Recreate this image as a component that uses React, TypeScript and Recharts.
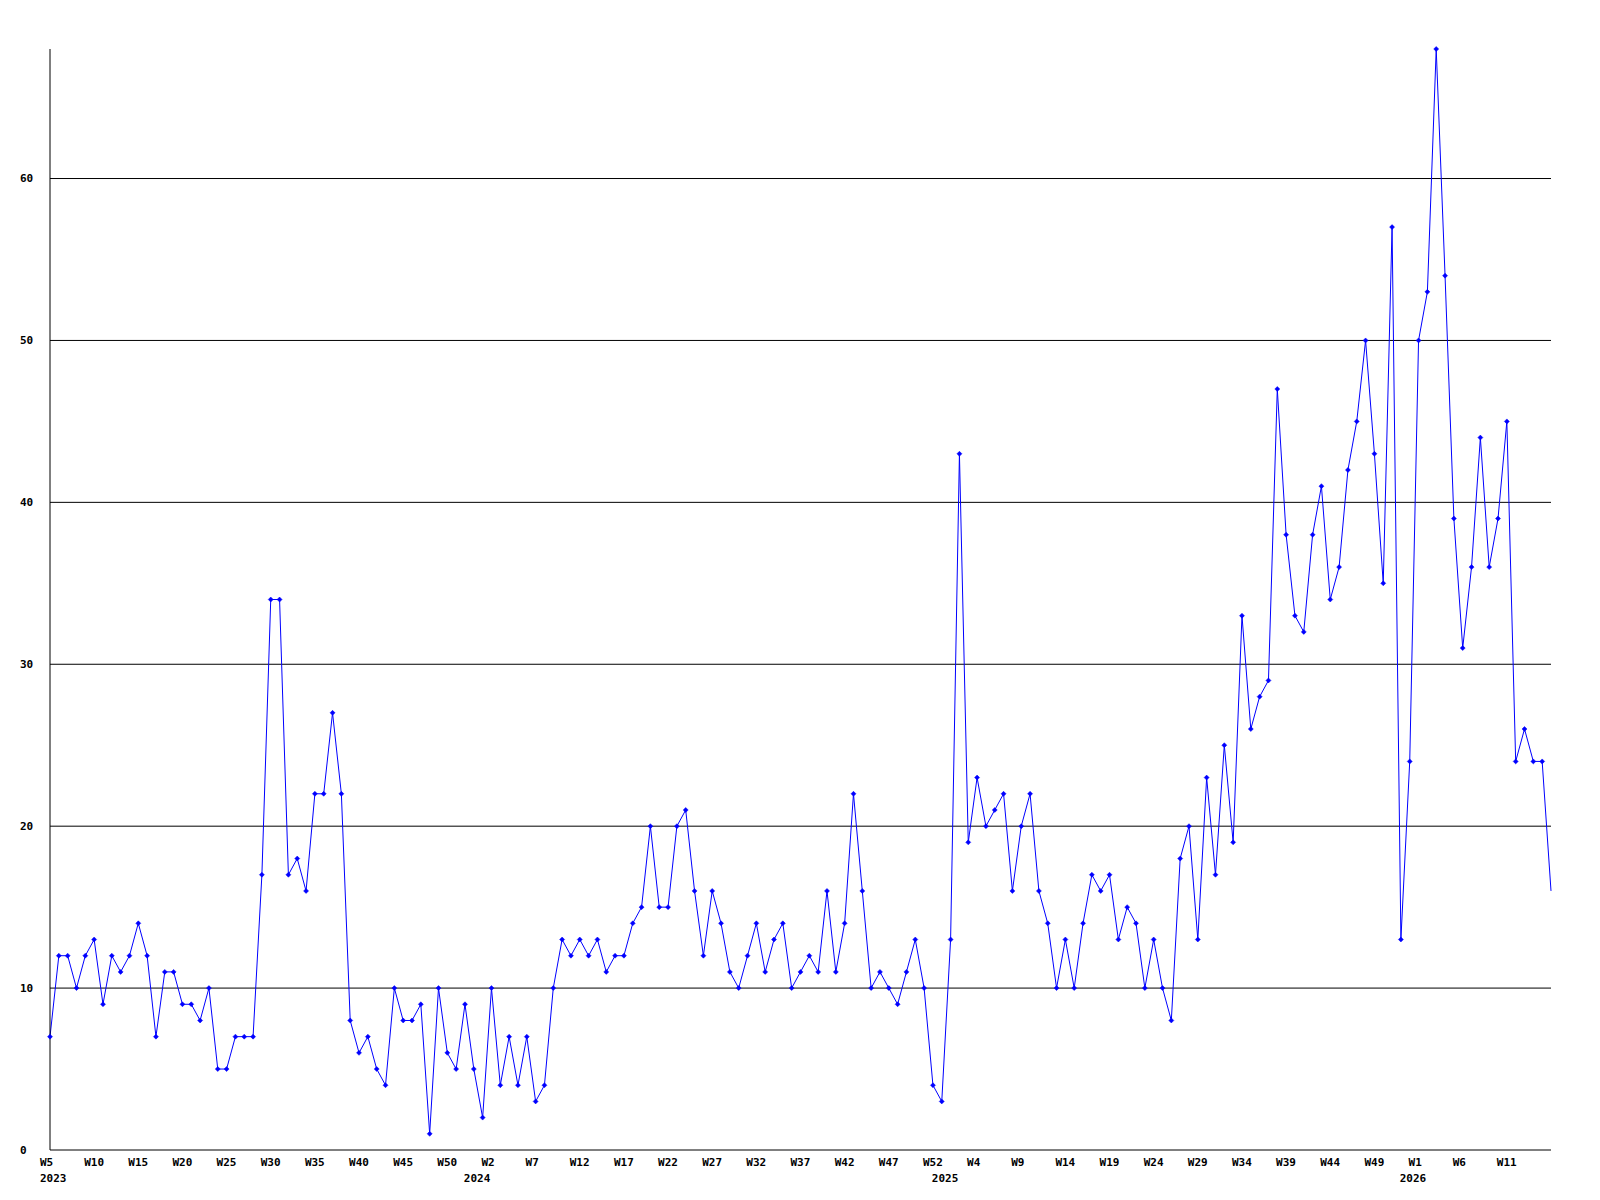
import { CartesianGrid, Line, LineChart, XAxis, YAxis } from "recharts";

// weekly counts, 2023 W5 onwards (one value per week)
const counts = [
  7, 12, 12, 10, 12, 13, 9, 12, 11, 12, 14, 12, 7, 11, 11, 9, 9, 8, 10, 5,
  5, 7, 7, 7, 17, 34, 34, 17, 18, 16, 22, 22, 27, 22, 8, 6, 7, 5, 4, 10,
  8, 8, 9, 1, 10, 6, 5, 9, 5, 2, 10, 4, 7, 4, 7, 3, 4, 10, 13, 12,
  13, 12, 13, 11, 12, 12, 14, 15, 20, 15, 15, 20, 21, 16, 12, 16, 14, 11, 10, 12,
  14, 11, 13, 14, 10, 11, 12, 11, 16, 11, 14, 22, 16, 10, 11, 10, 9, 11, 13, 10,
  4, 3, 13, 43, 19, 23, 20, 21, 22, 16, 20, 22, 16, 14, 10, 13, 10, 14, 17, 16,
  17, 13, 15, 14, 10, 13, 10, 8, 18, 20, 13, 23, 17, 25, 19, 33, 26, 28, 29, 47,
  38, 33, 32, 38, 41, 34, 36, 42, 45, 50, 43, 35, 57, 13, 24, 50, 53, 68, 54, 39,
  31, 36, 44, 36, 39, 45, 24, 26, 24, 24, 16,
];

// a week label every 5th point
const weekTickLabels = [
  "W5", "W10", "W15", "W20", "W25", "W30", "W35", "W40", "W45", "W50",
  "W2", "W7", "W12", "W17", "W22", "W27", "W32", "W37", "W42", "W47",
  "W52", "W4", "W9", "W14", "W19", "W24", "W29", "W34", "W39", "W44",
  "W49", "W1", "W6", "W11",
];

const yearLabels = ["2023", "2024", "2025", "2026"];
// index of the first week of each year
const yearStartPoints = [0, 48, 101, 154];

const valueTicks = [0, 10, 20, 30, 40, 50, 60];

const data = counts.map((count, i) => ({ i, count }));
const weekTicks = weekTickLabels.map((_, k) => k * 5);
const allTicks = Array.from(new Set([...weekTicks, ...yearStartPoints])).sort((a, b) => a - b);

const font = {
  fontFamily: "'DejaVu Sans Mono', monospace",
  fontWeight: "bold" as const,
  fontSize: 11,
  fill: "#000",
};

function XTick(props: any) {
  const { x, y, payload } = props;
  const w = weekTicks.indexOf(payload.value);
  const yr = yearStartPoints.indexOf(payload.value);
  return (
    <g>
      {w >= 0 && (
        <text x={x - 10} y={y + 12} dominantBaseline="central" {...font}>
          {weekTickLabels[w]}
        </text>
      )}
      {yr >= 0 && (
        <text x={x - 10} y={y + 28} dominantBaseline="central" {...font}>
          {yearLabels[yr]}
        </text>
      )}
    </g>
  );
}

function YTick(props: any) {
  const { x, y, payload } = props;
  return (
    <text x={x - 30} y={y} dominantBaseline="central" {...font}>
      {payload.value}
    </text>
  );
}

function Marker(props: any) {
  const { cx, cy, index } = props;
  if (index === counts.length - 1 || cx == null) return <g key={`m-${index}`} />;
  const r = 2.5;
  return (
    <path
      key={`m-${index}`}
      d={`M${cx},${cy - r}L${cx + r},${cy}L${cx},${cy + r}L${cx - r},${cy}Z`}
      fill="#0000ff"
      stroke="#0000ff"
      strokeWidth={0.5}
    />
  );
}

export default function App() {
  return (
    <div style={{ position: "absolute", left: 0, top: 0, width: 1600, height: 1200, background: "#fff" }}>
      <LineChart
        width={1600}
        height={1200}
        data={data}
        margin={{ top: 49, right: 49, bottom: 0, left: 0 }}
      >
        <CartesianGrid
          vertical={false}
          stroke="#000"
          horizontalValues={valueTicks.filter((v) => v > 0)}
        />
        <XAxis
          dataKey="i"
          type="number"
          domain={[0, counts.length - 1]}
          ticks={allTicks}
          interval={0}
          tickLine={false}
          tickSize={0}
          tickMargin={0}
          height={50}
          axisLine={{ stroke: "#000" }}
          tick={<XTick />}
        />
        <YAxis
          domain={[0, Math.max(...counts)]}
          ticks={valueTicks}
          interval={0}
          width={50}
          tickLine={false}
          tickSize={0}
          tickMargin={0}
          axisLine={{ stroke: "#000" }}
          tick={<YTick />}
        />
        <Line
          type="linear"
          dataKey="count"
          stroke="#0000ff"
          strokeWidth={1}
          dot={(p: any) => <Marker {...p} />}
          activeDot={false}
          isAnimationActive={false}
        />
      </LineChart>
    </div>
  );
}
